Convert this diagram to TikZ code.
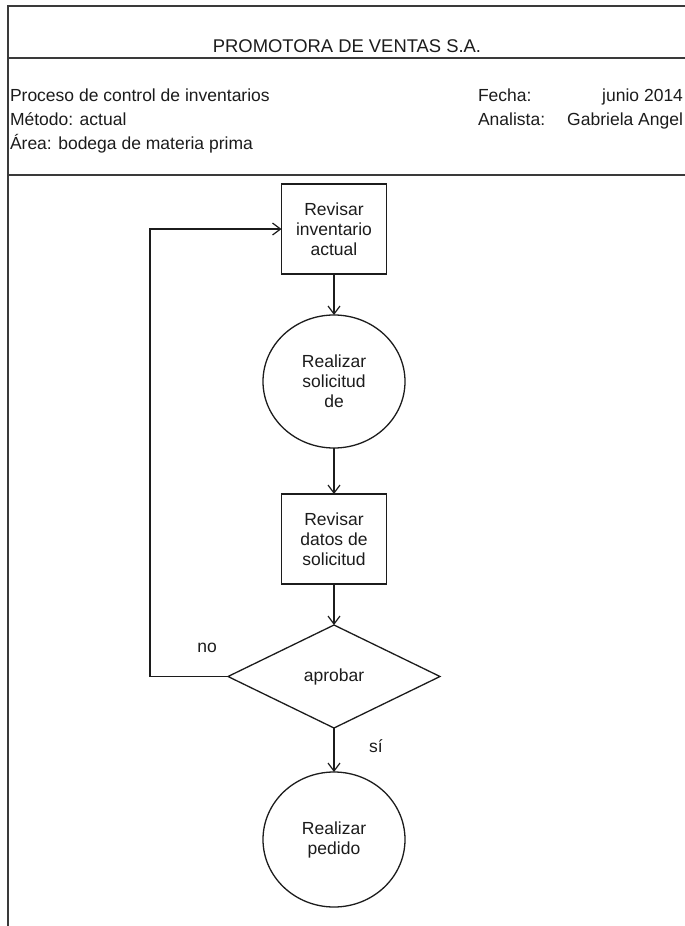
\documentclass[tikz,border=0pt]{standalone}
\usepackage{fontspec}
\setmainfont{Liberation Sans}
\usepackage{xcolor}
\usetikzlibrary{arrows.meta,positioning,shapes.geometric}
\definecolor{ink}{HTML}{1C1C1C}
\definecolor{rule}{HTML}{3A3A3A}

\begin{document}
\begin{tikzpicture}[x=1pt,y=-1pt,
  font=\fontsize{17.5}{20}\selectfont, text=ink,
  every node/.style={inner sep=0pt, outer sep=0pt},
  txt/.style={anchor=base west},
  txtr/.style={anchor=base east},
  procbox/.style={draw=ink, line width=1.3pt, minimum width=105pt, minimum height=90pt, align=center},
  docirc/.style={draw=ink, line width=1.3pt, ellipse, minimum width=142pt, minimum height=133pt, align=center},
  decide/.style={draw=ink, line width=1.3pt, diamond, minimum width=212pt, minimum height=103pt},
  flow/.style={draw=ink, line width=1.2pt, -{Straight Barb[length=8pt,width=12pt]}}]
\fill[white] (0,0) rectangle (685,926);
\useasboundingbox (0,0) rectangle (685,926);

% header frame
\draw[rule, line width=2pt] (685,6) -- (8,6) -- (8,926);
\draw[rule, line width=2pt] (8,58) -- (685,58);
\draw[rule, line width=2pt] (8,175) -- (685,175);

\node[anchor=base, font=\fontsize{18.4}{20}\selectfont] (title) at (347,52) {PROMOTORA DE VENTAS S.A.};
\node[txt] (proceso) at (10,101) {Proceso de control de inventarios};
\node[txt] (metodo) at (10,125) {Método: actual};
\node[txt] (area) at (10,149) {Área: bodega de materia prima};
\node[txt] (fecha) at (478,101) {Fecha:};
\node[txtr] (fechaval) at (683,101) {junio 2014};
\node[txt] (analista) at (478,125) {Analista:};
\node[txtr] (analistaval) at (683,125) {Gabriela Angel};

% flow
\node[procbox] (revinv) at (334,229) {Revisar\\inventario\\actual};
\node[docirc, below=41pt of revinv] (solic) {Realizar\\solicitud\\de};
\node[procbox, below=46pt of solic] (revdat) {Revisar\\datos de\\solicitud};
\node[decide, below=41pt of revdat] (aprobar) {aprobar};
\node[docirc, below=44pt of aprobar, minimum height=135pt] (pedido) {Realizar\\pedido};

\draw[flow] (revinv) -- (solic);
\draw[flow] (solic) -- (revdat);
\draw[flow] (revdat) -- (aprobar);
\draw[flow] (aprobar) -- (pedido);
\draw[flow] (aprobar.west) -- ++(-78,0) |- (revinv.west);

\node (no) at (207,648) {no};
\node (si) at (376,746) {sí};
\end{tikzpicture}
\end{document}
